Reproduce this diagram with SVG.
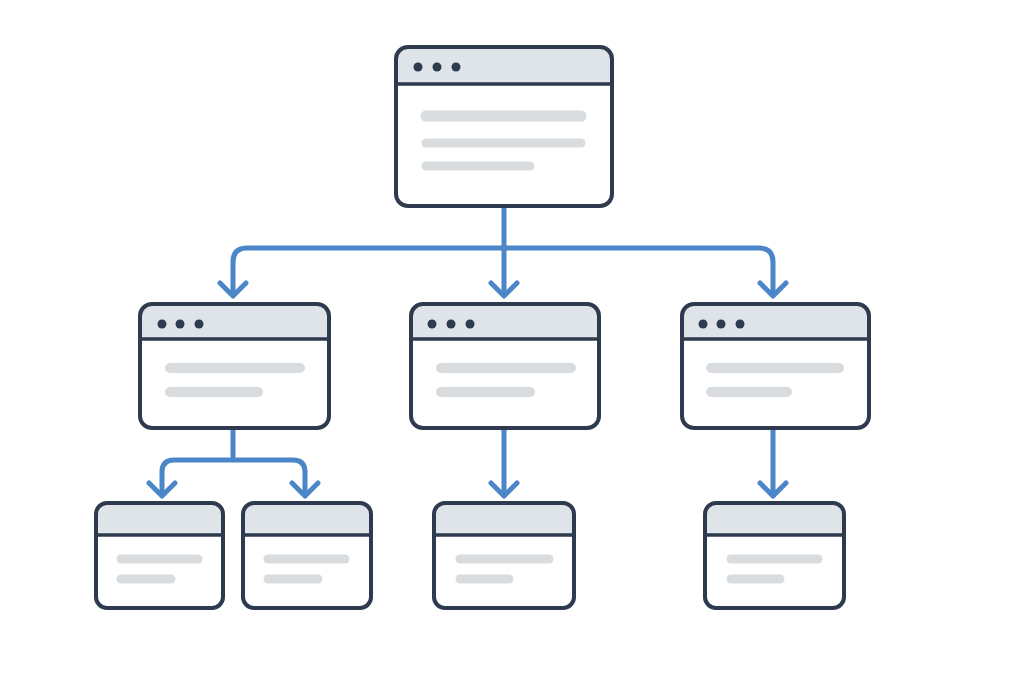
<svg xmlns="http://www.w3.org/2000/svg" width="1024" height="683" viewBox="0 0 1024 683">
<style>
.frame{fill:none;stroke:#2e3a4e;stroke-width:4}
.head{fill:#dfe4e9}
.sep{stroke:#2e3a4e;stroke-width:3.5}
.dot{fill:#2e3a4e}
.ln{stroke:#d9dcdf;stroke-width:9;stroke-linecap:round}
.conn{fill:none;stroke:#4a86c8;stroke-width:5;stroke-linejoin:round;stroke-linecap:round}
</style>
<rect width="1024" height="683" fill="#ffffff"/>
<g id="connectors">
<path class="conn" d="M504 208 V248 M233 295 V262 Q233 248 247 248 H759 Q773 248 773 262 V295 M504 248 V295"/>
<path class="conn" d="M220 283 L233 296 L246 283 M491 283 L504 296 L517 283 M760 283 L773 296 L786 283"/>
<path class="conn" d="M233 430 V460 M162 494 V472 Q162 460 174 460 H293 Q305 460 305 472 V494"/>
<path class="conn" d="M149 483 L162 496 L175 483 M292 483 L305 496 L318 483"/>
<path class="conn" d="M504 430 V496 M491 483 L504 496 L517 483"/>
<path class="conn" d="M773 430 V496 M760 483 L773 496 L786 483"/>
</g>
<g id="root">
<path class="head" d="M396 84 V59 Q396 47 408 47 H600 Q612 47 612 59 V84 Z"/>
<rect class="frame" x="396" y="47" width="216" height="159" rx="12"/>
<line class="sep" x1="396" y1="84" x2="612" y2="84"/>
<circle class="dot" cx="418" cy="67" r="4.5"/><circle class="dot" cx="437" cy="67" r="4.5"/><circle class="dot" cx="456" cy="67" r="4.5"/>
<line class="ln" x1="426" y1="116" x2="581" y2="116" style="stroke-width:11"/>
<line class="ln" x1="426" y1="143" x2="581" y2="143"/>
<line class="ln" x1="426" y1="166" x2="530" y2="166"/>
</g>
<g id="mid-left">
<path class="head" d="M140 339 V316 Q140 304 152 304 H317 Q329 304 329 316 V339 Z"/>
<rect class="frame" x="140" y="304" width="189" height="124" rx="12"/>
<line class="sep" x1="140" y1="339" x2="329" y2="339"/>
<circle class="dot" cx="162" cy="324" r="4.5"/><circle class="dot" cx="180" cy="324" r="4.5"/><circle class="dot" cx="199" cy="324" r="4.5"/>
<line class="ln" x1="170" y1="368" x2="300" y2="368" style="stroke-width:10"/>
<line class="ln" x1="170" y1="392" x2="258" y2="392" style="stroke-width:10"/>
</g>
<g id="mid-center">
<path class="head" d="M411 339 V316 Q411 304 423 304 H587 Q599 304 599 316 V339 Z"/>
<rect class="frame" x="411" y="304" width="188" height="124" rx="12"/>
<line class="sep" x1="411" y1="339" x2="599" y2="339"/>
<circle class="dot" cx="432" cy="324" r="4.5"/><circle class="dot" cx="451" cy="324" r="4.5"/><circle class="dot" cx="470" cy="324" r="4.5"/>
<line class="ln" x1="441" y1="368" x2="571" y2="368" style="stroke-width:10"/>
<line class="ln" x1="441" y1="392" x2="530" y2="392" style="stroke-width:10"/>
</g>
<g id="mid-right">
<path class="head" d="M682 339 V316 Q682 304 694 304 H857 Q869 304 869 316 V339 Z"/>
<rect class="frame" x="682" y="304" width="187" height="124" rx="12"/>
<line class="sep" x1="682" y1="339" x2="869" y2="339"/>
<circle class="dot" cx="703" cy="324" r="4.5"/><circle class="dot" cx="721" cy="324" r="4.5"/><circle class="dot" cx="740" cy="324" r="4.5"/>
<line class="ln" x1="711" y1="368" x2="839" y2="368" style="stroke-width:10"/>
<line class="ln" x1="711" y1="392" x2="787" y2="392" style="stroke-width:10"/>
</g>
<g id="leaf-1">
<path class="head" d="M96 535 V514 Q96 503 107 503 H212 Q223 503 223 514 V535 Z"/>
<rect class="frame" x="96" y="503" width="127" height="105" rx="11"/>
<line class="sep" x1="96" y1="535" x2="223" y2="535"/>
<line class="ln" x1="121" y1="559" x2="198" y2="559"/>
<line class="ln" x1="121" y1="579" x2="171" y2="579"/>
</g>
<g id="leaf-2">
<path class="head" d="M243 535 V514 Q243 503 254 503 H360 Q371 503 371 514 V535 Z"/>
<rect class="frame" x="243" y="503" width="128" height="105" rx="11"/>
<line class="sep" x1="243" y1="535" x2="371" y2="535"/>
<line class="ln" x1="268" y1="559" x2="345" y2="559"/>
<line class="ln" x1="268" y1="579" x2="318" y2="579"/>
</g>
<g id="leaf-3">
<path class="head" d="M434 535 V514 Q434 503 445 503 H563 Q574 503 574 514 V535 Z"/>
<rect class="frame" x="434" y="503" width="140" height="105" rx="11"/>
<line class="sep" x1="434" y1="535" x2="574" y2="535"/>
<line class="ln" x1="460" y1="559" x2="549" y2="559"/>
<line class="ln" x1="460" y1="579" x2="509" y2="579"/>
</g>
<g id="leaf-4">
<path class="head" d="M705 535 V514 Q705 503 716 503 H833 Q844 503 844 514 V535 Z"/>
<rect class="frame" x="705" y="503" width="139" height="105" rx="11"/>
<line class="sep" x1="705" y1="535" x2="844" y2="535"/>
<line class="ln" x1="731" y1="559" x2="818" y2="559"/>
<line class="ln" x1="731" y1="579" x2="780" y2="579"/>
</g>
</svg>
